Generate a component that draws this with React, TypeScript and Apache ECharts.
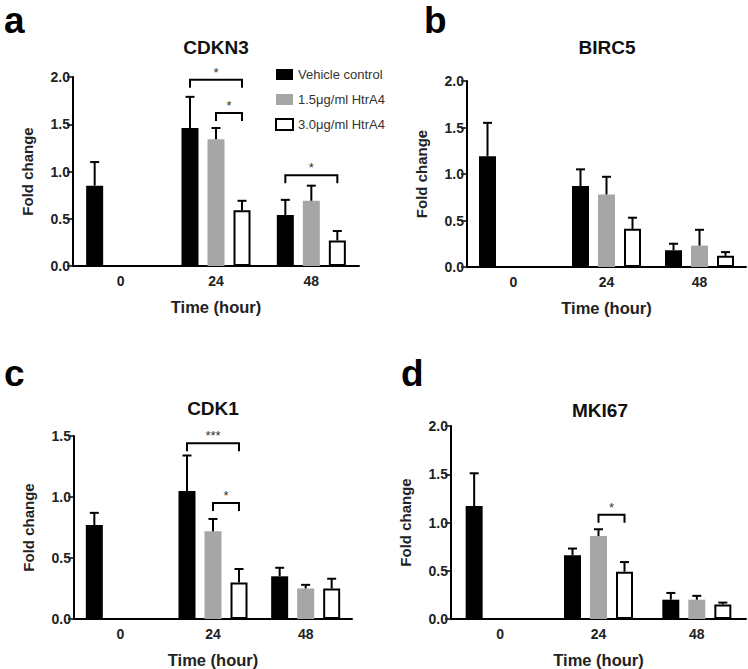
import React, { useEffect, useRef } from 'react';
import * as echarts from 'echarts';

const categories = ['0', '24', '48'];
const seriesNames = ['Vehicle control', '1.5μg/ml HtrA4', '3.0μg/ml HtrA4'];
const panelTitles = ['CDKN3', 'BIRC5', 'CDK1', 'MKI67'];
const panelLetters = ['a', 'b', 'c', 'd'];
const yMaxes = [2.0, 2.0, 1.5, 2.0];
const yTicks = [0, 0.5, 1.0, 1.5, 2.0];

// CDKN3
const cdkn3Vehicle = [0.85, 1.46, 0.54];
const cdkn3VehicleErr = [0.25, 0.33, 0.16];
const cdkn3Low = [null, 1.34, 0.69];
const cdkn3LowErr = [null, 0.12, 0.16];
const cdkn3High = [null, 0.59, 0.27];
const cdkn3HighErr = [null, 0.1, 0.1];

// BIRC5
const birc5Vehicle = [1.19, 0.87, 0.18];
const birc5VehicleErr = [0.36, 0.18, 0.07];
const birc5Low = [null, 0.78, 0.23];
const birc5LowErr = [null, 0.19, 0.17];
const birc5High = [null, 0.41, 0.12];
const birc5HighErr = [null, 0.12, 0.04];

// CDK1
const cdk1Vehicle = [0.77, 1.05, 0.35];
const cdk1VehicleErr = [0.1, 0.29, 0.07];
const cdk1Low = [null, 0.72, 0.25];
const cdk1LowErr = [null, 0.1, 0.03];
const cdk1High = [null, 0.3, 0.25];
const cdk1HighErr = [null, 0.11, 0.08];

// MKI67
const mki67Vehicle = [1.17, 0.66, 0.2];
const mki67VehicleErr = [0.34, 0.07, 0.07];
const mki67Low = [null, 0.86, 0.2];
const mki67LowErr = [null, 0.07, 0.04];
const mki67High = [null, 0.49, 0.15];
const mki67HighErr = [null, 0.1, 0.02];

// significance brackets: category index, from series, to series, height, label
const cdkn3Brackets = [
  { cat: 1, from: 0, to: 2, y: 1.97, label: '*' },
  { cat: 1, from: 1, to: 2, y: 1.62, label: '*' },
  { cat: 2, from: 0, to: 2, y: 0.96, label: '*' },
];
const birc5Brackets: any[] = [];
const cdk1Brackets = [
  { cat: 1, from: 0, to: 2, y: 1.44, label: '***' },
  { cat: 1, from: 1, to: 2, y: 0.95, label: '*' },
];
const mki67Brackets = [{ cat: 1, from: 1, to: 2, y: 1.08, label: '*' }];

const panels = [
  { means: [cdkn3Vehicle, cdkn3Low, cdkn3High], errs: [cdkn3VehicleErr, cdkn3LowErr, cdkn3HighErr], brackets: cdkn3Brackets },
  { means: [birc5Vehicle, birc5Low, birc5High], errs: [birc5VehicleErr, birc5LowErr, birc5HighErr], brackets: birc5Brackets },
  { means: [cdk1Vehicle, cdk1Low, cdk1High], errs: [cdk1VehicleErr, cdk1LowErr, cdk1HighErr], brackets: cdk1Brackets },
  { means: [mki67Vehicle, mki67Low, mki67High], errs: [mki67VehicleErr, mki67LowErr, mki67HighErr], brackets: mki67Brackets },
];

// layout
const FONT = '"Liberation Sans", Arial, sans-serif';
const grids = [
  { left: 73, top: 77, width: 286, height: 189 },
  { left: 467, top: 81, width: 279, height: 186 },
  { left: 74, top: 436, width: 278, height: 185 },
  { left: 451, top: 426, width: 295, height: 193 },
];
const titlePos = [
  [216, 47],
  [607, 47],
  [213, 408],
  [600, 410],
];
const letterPos = [
  [4, 20],
  [424, 20],
  [4, 373],
  [401, 373],
];
const BAR_W = 17;
const BAR_STEP = 26;
const CAP = 9;
const DROP = 8;
const barStyles = [
  { color: '#000000' },
  { color: '#a6a6a6' },
  { color: '#ffffff', borderColor: '#000000', borderWidth: 2 },
];

function buildOption() {
  const xAxis: any[] = [];
  const yAxis: any[] = [];
  const series: any[] = [];
  const graphic: any[] = [];

  grids.forEach((g, gi) => {
    xAxis.push({
      gridIndex: gi,
      type: 'category',
      data: categories,
      axisLine: { lineStyle: { color: '#000', width: 2 } },
      axisTick: { alignWithLabel: true, length: 5, lineStyle: { color: '#000', width: 1.5 } },
      axisLabel: { color: '#222', fontWeight: 'bold', fontSize: 14, fontFamily: FONT, margin: 8 },
      name: 'Time (hour)',
      nameLocation: 'middle',
      nameGap: 32,
      nameTextStyle: { color: '#222', fontWeight: 'bold', fontSize: 16.5, fontFamily: FONT },
    });
    yAxis.push({
      gridIndex: gi,
      type: 'value',
      min: 0,
      max: yMaxes[gi],
      interval: 0.5,
      axisLine: { show: true, lineStyle: { color: '#000', width: 2 } },
      axisTick: { show: true, length: 6, lineStyle: { color: '#000', width: 1.5 } },
      axisLabel: {
        color: '#222',
        fontWeight: 'bold',
        fontSize: 14,
        fontFamily: FONT,
        margin: 3,
        formatter: (v: number) => (yTicks.includes(v) ? v.toFixed(1) : ''),
      },
      splitLine: { show: false },
      name: 'Fold change',
      nameLocation: 'middle',
      nameGap: 38,
      nameTextStyle: { color: '#222', fontWeight: 'bold', fontSize: 15, fontFamily: FONT },
    });

    const p = panels[gi];
    p.means.forEach((m, k) => {
      series.push({
        type: 'bar',
        name: seriesNames[k],
        xAxisIndex: gi,
        yAxisIndex: gi,
        data: m,
        barWidth: BAR_W,
        barGap: '53%',
        itemStyle: barStyles[k],
        z: 2,
      });
    });
    p.means.forEach((m, k) => {
      const errs = p.errs[k];
      const data = m
        .map((v, i) => (v == null ? null : [i, v, errs[i]]))
        .filter((d) => d !== null);
      series.push({
        type: 'custom',
        name: 'err' + gi + '_' + k,
        xAxisIndex: gi,
        yAxisIndex: gi,
        encode: { x: 0, y: 1 },
        silent: true,
        z: 3,
        data,
        renderItem: (params: any, api: any) => {
          const i = api.value(0);
          const mean = api.value(1);
          const e = api.value(2);
          const p0 = api.coord([i, mean]);
          const p1 = api.coord([i, mean + e]);
          const x = p0[0] + (k - 1) * BAR_STEP;
          return {
            type: 'group',
            children: [
              { type: 'line', shape: { x1: x, y1: p0[1], x2: x, y2: p1[1] }, style: { stroke: '#000', lineWidth: 2 } },
              { type: 'line', shape: { x1: x - CAP / 2, y1: p1[1], x2: x + CAP / 2, y2: p1[1] }, style: { stroke: '#000', lineWidth: 2 } },
            ],
          };
        },
      });
    });
    if (p.brackets.length) {
      const br = p.brackets;
      series.push({
        type: 'custom',
        name: 'sig' + gi,
        xAxisIndex: gi,
        yAxisIndex: gi,
        encode: { x: 0, y: 1 },
        silent: true,
        z: 4,
        data: br.map((b: any) => [b.cat, b.y]),
        renderItem: (params: any, api: any) => {
          const b = br[params.dataIndex];
          const c = api.coord([api.value(0), api.value(1)]);
          const x1 = c[0] + (b.from - 1) * BAR_STEP;
          const x2 = c[0] + (b.to - 1) * BAR_STEP;
          const y = c[1];
          return {
            type: 'group',
            children: [
              {
                type: 'polyline',
                shape: { points: [[x1, y + DROP], [x1, y], [x2, y], [x2, y + DROP]] },
                style: { stroke: '#000', lineWidth: 2, fill: null },
              },
              {
                type: 'text',
                x: (x1 + x2) / 2,
                y: y - 1,
                style: {
                  text: b.label,
                  align: 'center',
                  verticalAlign: 'bottom',
                  textAlign: 'center',
                  textVerticalAlign: 'bottom',
                  fill: '#333',
                  font: '13px ' + FONT,
                },
              },
            ],
          };
        },
      });
    }

    graphic.push({
      type: 'text',
      x: titlePos[gi][0],
      y: titlePos[gi][1],
      style: {
        text: panelTitles[gi],
        textAlign: 'center',
        textVerticalAlign: 'middle',
        fill: '#111',
        font: 'bold 19px ' + FONT,
      },
    });
    graphic.push({
      type: 'text',
      x: letterPos[gi][0],
      y: letterPos[gi][1],
      style: {
        text: panelLetters[gi],
        textAlign: 'left',
        textVerticalAlign: 'middle',
        fill: '#000',
        font: 'bold 37px ' + FONT,
      },
    });
  });

  return {
    animation: false,
    backgroundColor: '#ffffff',
    textStyle: { fontFamily: FONT },
    grid: grids.map((g) => ({ ...g, containLabel: false })),
    xAxis,
    yAxis,
    legend: {
      data: seriesNames,
      orient: 'vertical',
      left: 275,
      top: 68,
      padding: 0,
      itemWidth: 17,
      itemHeight: 11,
      itemGap: 12,
      icon: 'rect',
      selectedMode: false,
      textStyle: { fontSize: 13, color: '#333', fontFamily: FONT },
    },
    series,
    graphic,
  };
}

export default function App() {
  const ref = useRef<HTMLDivElement>(null);
  useEffect(() => {
    document.body.style.margin = '0';
    if (!ref.current) return;
    const chart = echarts.init(ref.current, undefined, { renderer: 'svg' });
    chart.setOption(buildOption() as any);
    return () => chart.dispose();
  }, []);
  return <div ref={ref} style={{ width: 748, height: 669 }} />;
}
